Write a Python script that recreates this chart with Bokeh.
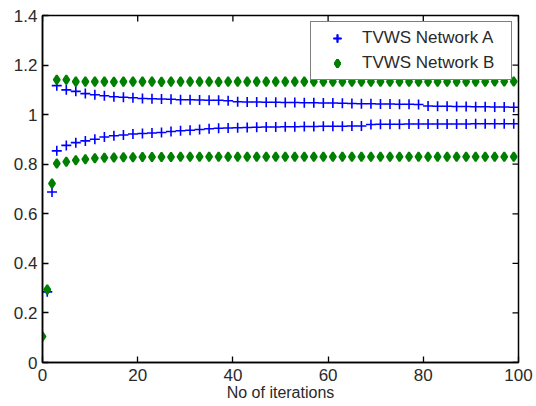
import math
from bokeh.plotting import figure
from bokeh.models import Range1d, FixedTicker, Legend, LegendItem
from bokeh.embed import file_html
from bokeh.resources import INLINE

# ---- data ----
iters = [3, 5, 7, 9, 11, 13, 15, 17, 19, 21, 23, 25, 27, 29, 31, 33, 35, 37, 39, 41,
         43, 45, 47, 49, 51, 53, 55, 57, 59, 61, 63, 65, 67, 69, 71, 73, 75, 77, 79, 81,
         83, 85, 87, 89, 91, 93, 95, 97, 99]

a_upper = [1.117, 1.100, 1.094, 1.085, 1.080, 1.076, 1.072, 1.070, 1.068, 1.065,
           1.064, 1.063, 1.062, 1.060, 1.060, 1.059, 1.058, 1.058, 1.056, 1.052,
           1.051, 1.051, 1.050, 1.050, 1.049, 1.049, 1.048, 1.048, 1.047, 1.047,
           1.046, 1.045, 1.044, 1.044, 1.043, 1.043, 1.042, 1.042, 1.041, 1.035,
           1.034, 1.034, 1.033, 1.033, 1.032, 1.032, 1.031, 1.031, 1.030]

a_lower = [0.854, 0.876, 0.887, 0.894, 0.901, 0.910, 0.915, 0.918, 0.922, 0.924,
           0.926, 0.928, 0.932, 0.935, 0.937, 0.940, 0.943, 0.945, 0.946, 0.947,
           0.948, 0.949, 0.950, 0.950, 0.951, 0.951, 0.952, 0.952, 0.953, 0.953,
           0.953, 0.954, 0.954, 0.960, 0.961, 0.961, 0.961, 0.962, 0.962, 0.962,
           0.962, 0.962, 0.962, 0.962, 0.963, 0.963, 0.963, 0.963, 0.963]

b_upper = [1.141, 1.141, 1.133, 1.133, 1.133, 1.133, 1.132, 1.133, 1.133, 1.133,
           1.133, 1.132, 1.133, 1.133, 1.133, 1.133, 1.133, 1.132, 1.133, 1.133,
           1.133, 1.133, 1.133, 1.133, 1.133, 1.133, 1.133, 1.133, 1.133, 1.133,
           1.133, 1.133, 1.133, 1.133, 1.133, 1.133, 1.133, 1.133, 1.133, 1.133,
           1.133, 1.133, 1.133, 1.133, 1.133, 1.133, 1.134, 1.134, 1.134]

b_lower = [0.803, 0.810, 0.816, 0.820, 0.824, 0.826, 0.827, 0.828, 0.828, 0.829,
           0.829, 0.829, 0.829, 0.830, 0.830, 0.830, 0.830, 0.830, 0.830, 0.830,
           0.830, 0.830, 0.830, 0.830, 0.830, 0.830, 0.830, 0.830, 0.830, 0.830,
           0.830, 0.830, 0.830, 0.830, 0.830, 0.830, 0.830, 0.830, 0.830, 0.830,
           0.830, 0.830, 0.830, 0.830, 0.830, 0.830, 0.830, 0.830, 0.830]

a_early_x = [1, 2]
a_early_y = [0.285, 0.688]
b_early_x = [0, 1, 2]
b_early_y = [0.105, 0.294, 0.722]

y_ticks = [0, 0.2, 0.4, 0.6, 0.8, 1.0, 1.2, 1.4]
y_tick_labels = ["0", "0.2", "0.4", "0.6", "0.8", "1", "1.2", "1.4"]
x_ticks = [0, 20, 40, 60, 80, 100]

series_names = ["TVWS Network A", "TVWS Network B"]
x_label = "No of iterations"

BLUE = "#0000ff"
GREEN = "#008000"
FONT = "Liberation Sans"
TXT = "#2a2a2a"

X_MIN, X_MAX = 0, 100
Y_MIN, Y_MAX = 0, 1.4

p = figure(width=536, height=406, output_backend="svg", toolbar_location=None,
           x_range=Range1d(X_MIN, X_MAX), y_range=Range1d(Y_MIN, Y_MAX),
           min_border_left=42, min_border_right=18, min_border_top=15,
           min_border_bottom=44)
p.xgrid.visible = False
p.ygrid.visible = False
p.outline_line_color = "black"
p.outline_line_width = 1.5
p.background_fill_color = "white"
p.border_fill_color = "white"

ra = []
rb = []
for xs, ys in [(iters, a_upper), (iters, a_lower), (a_early_x, a_early_y)]:
    ra.append(p.scatter(xs, ys, marker="cross", size=10, line_color=BLUE, line_width=1.6))
for xs, ys in [(iters, b_upper), (iters, b_lower), (b_early_x, b_early_y)]:
    rb.append(p.scatter(xs, ys, marker="diamond", size=9, fill_color=GREEN,
                        line_color=GREEN, line_width=2))

# inward ticks on the top and right edges (half of each dash is clipped by the frame)
p.scatter(x_ticks, [Y_MAX] * len(x_ticks), marker="dash", size=12, angle=math.pi / 2,
          line_color="black", line_width=1.3)
p.scatter([X_MAX] * len(y_ticks), y_ticks, marker="dash", size=12,
          line_color="black", line_width=1.3)

def style_axis(ax):
    ax.axis_line_color = "black"
    ax.axis_line_width = 1.5
    ax.major_tick_in = 6
    ax.major_tick_out = 0
    ax.major_tick_line_color = "black"
    ax.major_tick_line_width = 1.3
    ax.minor_tick_line_color = None
    ax.major_label_text_font = FONT
    ax.major_label_text_color = TXT
    ax.major_label_text_font_size = "17px"

xa = p.xaxis[0]
xa.ticker = FixedTicker(ticks=x_ticks)
style_axis(xa)
xa.major_label_standoff = 6
xa.axis_label = x_label
xa.axis_label_text_font = FONT
xa.axis_label_text_font_size = "16px"
xa.axis_label_text_font_style = "normal"
xa.axis_label_text_color = TXT
xa.axis_label_standoff = 0

ya = p.yaxis[0]
ya.ticker = FixedTicker(ticks=y_ticks)
ya.major_label_overrides = {t: s for t, s in zip(y_ticks, y_tick_labels)}
style_axis(ya)
ya.major_label_standoff = 5

legend = Legend(items=[LegendItem(label=series_names[0], renderers=ra),
                       LegendItem(label=series_names[1], renderers=rb)],
                location="top_right")
legend.margin = 6
legend.padding = 6
legend.spacing = 5
legend.glyph_width = 40
legend.glyph_height = 20
legend.label_height = 20
legend.label_width = 143
legend.label_standoff = 5
legend.label_text_font = FONT
legend.label_text_font_size = "17px"
legend.label_text_color = TXT
legend.border_line_color = "black"
legend.border_line_width = 1.3
legend.background_fill_color = "white"
legend.background_fill_alpha = 1.0
p.add_layout(legend, "center")

open("out.html", "w").write(file_html(p, INLINE))
